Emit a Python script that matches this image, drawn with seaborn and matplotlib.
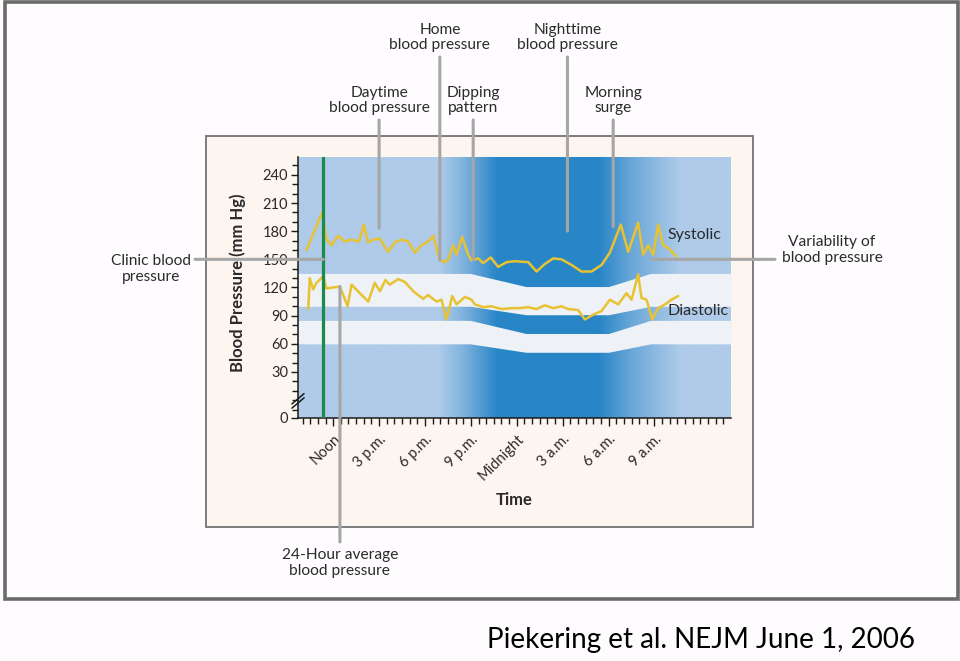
import numpy as np
import pandas as pd
import matplotlib
matplotlib.use("Agg")
import matplotlib.pyplot as plt
import seaborn as sns
from matplotlib.colors import to_rgb
from matplotlib.patches import Rectangle

# ---------------- data (hours: 12 = noon, 24 = midnight, 36 = next noon) ----------------
sys_hours = [10.26, 11.28, 11.56, 11.89, 12.33, 12.76, 13.20, 13.68, 14.00, 14.29,
             14.61, 15.05, 15.59, 16.03, 16.47, 16.90, 17.34, 17.77, 18.21, 18.54,
             18.97, 19.30, 19.52, 19.84, 20.06, 20.43, 20.82, 21.04, 21.48, 21.80,
             22.30, 22.78, 23.33, 23.87, 24.75, 25.29, 25.83, 26.38, 26.92, 27.58,
             28.23, 28.88, 29.54, 30.08, 30.80, 31.28, 31.93, 32.26, 32.59, 32.92,
             33.24, 33.57, 33.90, 34.44]
sys_values = [160, 200, 171, 165, 175, 169, 171, 169, 187, 168,
              171, 172, 158, 168, 171, 169, 157, 165, 169, 175,
              149, 147, 150, 165, 155, 174, 155, 149, 151, 146,
              152, 142, 147, 148, 147, 137, 145, 151, 150, 144,
              137, 137, 144, 157, 187, 158, 189, 155, 165, 155,
              187, 165, 162, 153]

dia_hours = [10.37, 10.47, 10.69, 10.91, 11.35, 11.56, 12.00, 12.44, 12.94, 13.20,
             13.74, 14.29, 14.72, 15.05, 15.42, 15.70, 16.25, 16.68, 17.23, 17.88,
             18.21, 18.75, 19.08, 19.41, 19.78, 20.06, 20.61, 21.04, 21.26, 21.80,
             22.35, 23.00, 23.66, 24.20, 24.75, 25.29, 25.83, 26.38, 26.92, 27.36,
             28.01, 28.45, 28.99, 29.54, 30.08, 30.63, 31.17, 31.50, 31.93, 32.15,
             32.48, 32.85, 33.24, 33.68, 34.11, 34.55]
dia_values = [97, 130, 118, 125, 132, 119, 120, 121, 100, 123,
              114, 105, 125, 116, 128, 123, 129, 126, 116, 108,
              112, 105, 107, 86, 111, 102, 110, 107, 102, 99,
              100, 97, 98, 98, 99, 97, 101, 98, 100, 97,
              96, 86, 91, 95, 107, 102, 114, 107, 134, 109,
              107, 86, 98, 102, 107, 111]

time_ticks = [12, 15, 18, 21, 24, 27, 30, 33]
time_labels = ["Noon", "3 p.m.", "6 p.m.", "9 p.m.", "Midnight", "3 a.m.", "6 a.m.", "9 a.m."]
bp_ticks = [30, 60, 90, 120, 150, 180, 210, 240]
bp_labels = ["30", "60", "90", "120", "150", "180", "210", "240"]

# normal-range bands (day level -> nocturnal dip -> day level)
band_hours = [9.7, 20.95, 24.6, 30.0, 32.75, 38.0]
upper_band_top = [135, 135, 121, 121, 135, 135]
upper_band_bottom = [100, 100, 91, 91, 100, 100]
lower_band_top = [85, 85, 71, 71, 85, 85]
lower_band_bottom = [60, 60, 51, 51, 60, 60]

clinic_hour = 11.35

# annotations: label, anchor (hour, mmHg)
annot_labels = ["Daytime\nblood pressure", "Home\nblood pressure", "Dipping\npattern",
                "Nighttime\nblood pressure", "Morning\nsurge"]
annot_hours = [15.0, 18.97, 21.15, 27.31, 30.3]
annot_values = [183, 149, 150, 180, 185]

# ---------------- styling ----------------
sns.set_theme(style="white")
plt.rcParams['font.family'] = ['Lato', 'DejaVu Sans']

W, H = 960, 661
fig = plt.figure(figsize=(W / 100, H / 100), dpi=100, facecolor='#fefcfe')


def fx(x):
    return x / W


def fyy(y):
    return 1 - y / H


# outer frame and inner panel
fig.add_artist(Rectangle((fx(5), fyy(599)), fx(953), 597 / H, transform=fig.transFigure,
                         facecolor='#fefcfe', edgecolor='#6b6b6b', lw=2.6, zorder=-3))
fig.add_artist(Rectangle((fx(206), fyy(527)), fx(547), 391 / H, transform=fig.transFigure,
                         facecolor='#fdf5ef', edgecolor='#7c7c7c', lw=1.4, zorder=-2))

X0, X1 = 9.7, 38.0
Y0, Y1 = -19, 259
ax = fig.add_axes([fx(298), fyy(418), fx(433), 261 / H])
ax.patch.set_visible(False)

# background day/night gradient
grid = np.linspace(X0, X1, 800)
stop_h = [X0, 18.9, 20.6, 22.7, 29.4, 31.6, 34.7, X1]
stop_i = [0, 0, 0.38, 1, 1, 0.5, 0, 0]
inten = np.interp(grid, stop_h, stop_i)
light = np.array(to_rgb('#afcbe9'))
dark = np.array(to_rgb('#2886c7'))
img = light[None, :] * (1 - inten[:, None]) + dark[None, :] * inten[:, None]
ax.imshow(img[None, :, :], extent=[X0, X1, Y0, Y1], aspect='auto', origin='lower',
          zorder=0, interpolation='bilinear')

band_col = '#eef1f5'
ax.fill_between(band_hours, upper_band_bottom, upper_band_top, color=band_col, lw=0, zorder=1)
ax.fill_between(band_hours, lower_band_bottom, lower_band_top, color=band_col, lw=0, zorder=1)

df_sys = pd.DataFrame({"hour": sys_hours, "bp": sys_values})
df_dia = pd.DataFrame({"hour": dia_hours, "bp": dia_values})
line_col = '#e7c232'
sns.lineplot(data=df_sys, x="hour", y="bp", ax=ax, color=line_col, lw=1.8,
             estimator=None, sort=False, zorder=3)
sns.lineplot(data=df_dia, x="hour", y="bp", ax=ax, color=line_col, lw=1.8,
             estimator=None, sort=False, zorder=3)

ax.axvline(clinic_hour, color='#1b8a4d', lw=2.3, zorder=4)

ax.set_xlim(X0, X1)
ax.set_ylim(Y0, Y1)

# axes styling
for s in ['top', 'right']:
    ax.spines[s].set_visible(False)
for s in ['left', 'bottom']:
    ax.spines[s].set_color('#1c1c1c')
    ax.spines[s].set_linewidth(1.1)

ax.set_xticks(time_ticks)
ax.set_xticklabels(time_labels, rotation=45, ha='right', va='top', rotation_mode='anchor')
ax.set_xticks(np.arange(10.0, 37.6, 0.5), minor=True)
ax.set_yticks([Y0] + bp_ticks)
ax.set_yticklabels(["0"] + bp_labels)
ax.set_yticks([v for v in range(-10, 256, 10) if v not in bp_ticks], minor=True)
ax.tick_params(axis='both', which='both', direction='out', color='#1c1c1c', width=1.0,
               left=True, bottom=True, labelsize=10.5, labelcolor='#2a2a2a')
ax.tick_params(axis='x', which='major', length=6, pad=4)
ax.tick_params(axis='x', which='minor', length=4.3)
ax.tick_params(axis='y', which='major', length=5, pad=2)
ax.tick_params(axis='y', which='minor', length=4.3)
ax.grid(False)

ax.set_xlabel("Time", fontsize=12, fontweight='bold', color='#2a2a2a', va='center')
ax.xaxis.set_label_coords((514 - 298) / 433, -(500 - 418) / 261)
ax.set_ylabel("Blood Pressure (mm Hg)", fontsize=12, fontweight='bold', color='#2a2a2a',
              va='center', ha='center')
ax.yaxis.set_label_coords((238 - 298) / 433, (418 - 283) / 261)

# axis break marks
ytr = ax.get_yaxis_transform()
for yc in [1.5, -3.0]:
    ax.plot([-0.014, 0.014], [yc - 5.5, yc + 5.5], transform=ytr, color='#1c1c1c',
            lw=1.1, clip_on=False, zorder=6)

# in-plot labels
ax.text(33.83, 176, "Systolic", fontsize=11.5, color='#2a2a2a', va='center', ha='left', zorder=6)
ax.text(33.83, 94.5, "Diastolic", fontsize=11.5, color='#2a2a2a', va='center', ha='left', zorder=6)

# ---------------- annotations ----------------
gray = '#a6a6a6'
txt_col = '#2b2b2b'
fig.canvas.draw()


def leader(hour, val, end_px):
    ax.annotate("", xy=(hour, val), xycoords='data', xytext=end_px,
                textcoords='figure pixels',
                arrowprops=dict(arrowstyle='-', color=gray, lw=2.2, shrinkA=0, shrinkB=0),
                annotation_clip=False, zorder=5)


text_centers_y = [100.5, 37.5, 100.5, 37.5, 100.5]
line_top_y = [120, 57, 120, 57, 120]
for lab, h, v, ty, ly in zip(annot_labels, annot_hours, annot_values, text_centers_y, line_top_y):
    px, _ = ax.transData.transform((h, v))
    leader(h, v, (px, H - ly))
    fig.text(px / W, fyy(ty), lab, ha='center', va='center', fontsize=11.2,
             color=txt_col, linespacing=1.18)

# clinic blood pressure
cx, cy = ax.transData.transform((clinic_hour, 150))
leader(clinic_hour, 150, (195, cy))
fig.text(fx(151), fyy(269), "Clinic blood\npressure", ha='center', va='center', fontsize=11.2,
         color=txt_col, linespacing=1.18)

# variability
vx, vy = ax.transData.transform((32.8, 150))
leader(32.8, 150, (775, vy))
fig.text(fx(832), fyy(250), "Variability of\nblood pressure", ha='center', va='center',
         fontsize=11.2, color=txt_col, linespacing=1.18)

# 24-hour average
ax24, _ = ax.transData.transform((12.44, 121))
leader(12.44, 121, (ax24, H - 542))
fig.text(ax24 / W, fyy(563), "24-Hour average\nblood pressure", ha='center', va='center',
         fontsize=11.2, color=txt_col, linespacing=1.18)

# citation
fig.text(fx(701), fyy(640), "Piekering et al. NEJM June 1, 2006", ha='center', va='center',
         fontsize=20, color='black', family=['Lato', 'DejaVu Sans'])

fig.savefig("out.png", dpi=100, facecolor=fig.get_facecolor())
